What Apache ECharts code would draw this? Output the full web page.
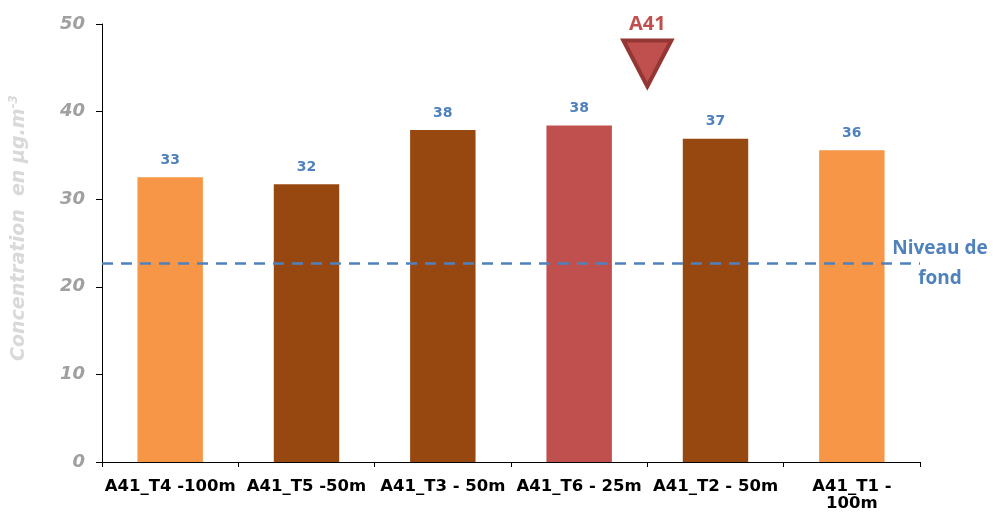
<!DOCTYPE html>
<html>
<head>
<meta charset="utf-8">
<script src="https://cdn.jsdelivr.net/npm/echarts@6/dist/echarts.min.js"></script>
<style>
  html, body { margin: 0; padding: 0; background: #fff; }
  #chart { width: 993px; height: 515px; }
</style>
</head>
<body>
<div id="chart"></div>
<script>
const categories = ['A41_T4 -100m', 'A41_T5 -50m', 'A41_T3 - 50m', 'A41_T6 - 25m', 'A41_T2 - 50m', 'A41_T1 - 100m']
const values = [32.5, 31.7, 37.9, 38.4, 36.9, 35.6]
const barColors = ['#f79646', '#974811', '#974811', '#c0504d', '#974811', '#f79646']
const backgroundLevel = 22.7
const roadMarker = [[4, 45.5]] // position on the category scale (boundary T6 / T2)
const roadName = 'A41'
const yTicks = { min: 0, max: 50, interval: 10 }

const labelBlue = '#4f81bd'

const chart = echarts.init(document.getElementById('chart'))

chart.setOption({
  animation: false,
  grid: { left: 99, right: 73, top: 24, bottom: 53 },
  xAxis: [
    {
      type: 'category',
      data: categories,
      axisLine: { lineStyle: { color: '#000', width: 1 } },
      axisTick: { show: true, length: 5, lineStyle: { color: '#000' } },
      axisLabel: {
        interval: 0,
        margin: 16,
        color: '#000',
        fontFamily: 'DejaVu Sans',
        fontWeight: 'bold',
        fontSize: 16.5,
        lineHeight: 17,
        formatter: v => v === 'A41_T1 - 100m' ? 'A41_T1 -\n100m' : v
      }
    },
    {
      type: 'value',
      min: 0,
      max: categories.length,
      show: false
    }
  ],
  yAxis: {
    type: 'value',
    min: yTicks.min,
    max: yTicks.max,
    interval: yTicks.interval,
    name: 'Concentration  en µg.m{sup|-3}',
    nameLocation: 'middle',
    nameGap: 72,
    nameTextStyle: {
      color: '#d9d9d9',
      fontFamily: 'DejaVu Sans',
      fontWeight: 'bold',
      fontStyle: 'italic',
      fontSize: 19,
      padding: [0, 0, 0, 30],
      rich: {
        sup: { fontSize: 12, verticalAlign: 'top', color: '#d9d9d9', fontWeight: 'bold', fontStyle: 'italic', fontFamily: 'DejaVu Sans', padding: [0, 0, 10, 0] }
      }
    },
    axisLine: { show: true, lineStyle: { color: '#000', width: 1 } },
    axisTick: { show: true, length: 6, lineStyle: { color: '#000' } },
    splitLine: { show: false },
    axisLabel: {
      margin: 17,
      color: '#a0a0a0',
      fontFamily: 'DejaVu Sans',
      fontWeight: 'bold',
      fontStyle: 'italic',
      fontSize: 18
    }
  },
  series: [
    {
      type: 'bar',
      data: values.map((v, i) => ({ value: v, itemStyle: { color: barColors[i] } })),
      barWidth: '48%',
      label: {
        show: true,
        position: 'top',
        distance: 10,
        color: labelBlue,
        fontFamily: 'DejaVu Sans',
        fontWeight: 'bold',
        fontSize: 14,
        formatter: p => Math.round(p.value)
      },
      markLine: {
        silent: true,
        symbol: 'none',
        lineStyle: { color: labelBlue, type: [11, 8], width: 2.5 },
        label: {
          show: true,
          position: 'end',
          distance: 20,
          formatter: 'Niveau de\nfond',
          align: 'center',
          color: labelBlue,
          fontFamily: 'Open Sans',
          fontWeight: 'bold',
          fontSize: 19,
          lineHeight: 30,
          padding: [0, 0, 10, 0]
        },
        data: [{ yAxis: backgroundLevel }]
      }
    },
    {
      type: 'scatter',
      xAxisIndex: 1,
      data: roadMarker,
      symbol: 'triangle',
      symbolRotate: 180,
      symbolSize: [48, 46],
      itemStyle: { color: '#c0504d', borderColor: '#943634', borderWidth: 4, opacity: 1 },
      label: {
        show: true,
        position: 'top',
        distance: 4,
        formatter: roadName,
        color: '#c0504d',
        fontFamily: 'Open Sans',
        fontWeight: 'bold',
        fontSize: 20
      }
    }
  ]
})
</script>
</body>
</html>
